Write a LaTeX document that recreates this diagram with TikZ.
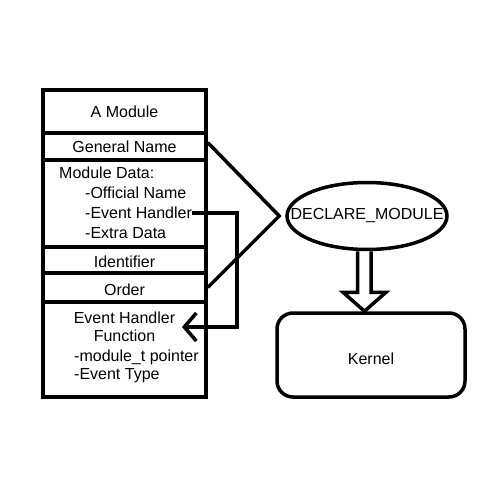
\documentclass[tikz,border=0pt]{standalone}
\usepackage{fontspec}
\setmainfont{Liberation Sans}
\usetikzlibrary{shapes.geometric,arrows.meta,calc}
\begin{document}
\begin{tikzpicture}[x=1pt,y=-1pt,
  thick line/.style={line width=3.5pt},
  row/.style={draw,line width=3.5pt,minimum width=163pt,inner sep=0pt,anchor=center},
  txt/.style={inner sep=0pt,font=\fontsize{16}{19}\selectfont},
  ltxt/.style={txt,anchor=west}]
\useasboundingbox (0,0) rectangle (500,500);
% left stack
\node[row,minimum height=43pt] (amod) at (124.5,111.5) {};
\node[row,minimum height=27pt] (gn) at (124.5,146.5) {};
\node[row,minimum height=87pt] (md) at (124.5,203.5) {};
\node[row,minimum height=26pt] (ident) at (124.5,260) {};
\node[row,minimum height=29pt] (ord) at (124.5,287.5) {};
\node[row,minimum height=95pt] (ehf) at (124.5,349.5) {};
\node[txt] (tamod) at (124.5,112) {A Module};
\node[txt] (tgn) at (124.5,147) {General Name};
\node[ltxt] (tmd) at (59,173) {Module Data:};
\node[ltxt] (toff) at (85,193) {-Official Name};
\node[ltxt] (teh) at (85,213) {-Event Handler};
\node[ltxt] (tex) at (85,233) {-Extra Data};
\node[txt] (tid) at (124.5,262) {Identifier};
\node[txt] (tord) at (124.5,290) {Order};
\node[txt] (tehf1) at (124.5,318) {Event Handler};
\node[txt] (tehf2) at (124.5,336) {Function};
\node[ltxt] (tptr) at (74,357) {-module\_t pointer};
\node[ltxt] (ttype) at (74,376) {-Event Type};
% ellipse
\node[draw,ellipse,line width=3.5pt,minimum width=160pt,minimum height=67pt,inner sep=0pt] (decl) at (367,216) {};
\node[txt] (tdecl) at (decl.center) {DECLARE\_MODULE};
% kernel
\node[draw,line width=3.5pt,rounded corners=16pt,minimum width=188pt,minimum height=84pt] (kern) at (371,355) {};
\node[txt] (tkern) at (371,359) {Kernel};
% chevron
\draw[thick line,line join=miter] ($(gn.east)+(0,-4)$) -- ($(decl.west)+(-6,0)$) -- ($(ord.east)+(0,0)$);
% event handler connector
\coordinate (c1) at (237,213);
\coordinate (c2) at (237,327);
\coordinate (ctip) at (182,327);
\draw[thick line,-{Straight Barb[length=12pt,width=28pt,line width=3.5pt]}] (teh.east) -- (c1) -- (c2) -- (ctip);
% hollow arrow
\draw[thick line,line join=miter] ($(decl.south)+(-9.5,0)$) -- ($(decl.south)+(-9.5,41)$) -- ($(decl.south)+(-24,41)$) -- ($(kern.north)+(-6.5,0)$) -- ($(decl.south)+(19,41)$) -- ($(decl.south)+(4,41)$) -- ($(decl.south)+(4,0)$);
\end{tikzpicture}
\end{document}
